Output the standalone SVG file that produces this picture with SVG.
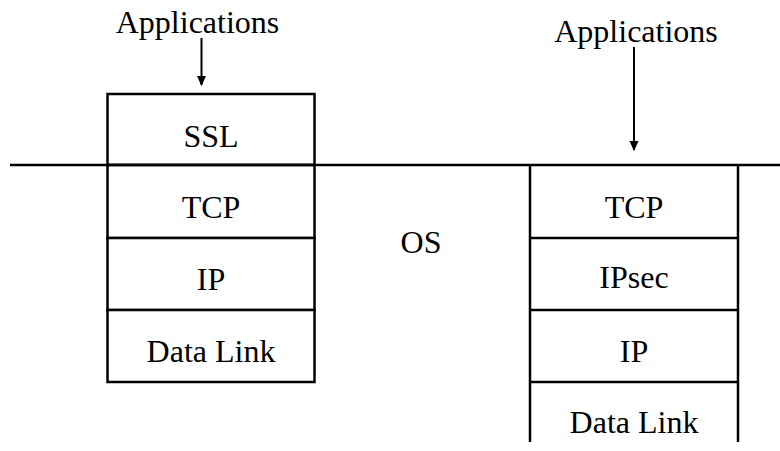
<svg xmlns="http://www.w3.org/2000/svg" width="780" height="451" viewBox="0 0 780 451">
<defs>
<style>
text{font-family:'Liberation Serif','Times New Roman',serif;font-size:32px;fill:#000;text-anchor:middle}
.b{fill:#fff;stroke:#000;stroke-width:2.5}
.l{stroke:#000;stroke-width:2.5;fill:none}
.a{stroke:#000;stroke-width:2;fill:none}
</style>
</defs>
<rect width="780" height="451" fill="#fff"/>
<g id="left-stack">
<g id="ssl"><rect class="b" x="107.5" y="94" width="207" height="71"/><text x="211" y="147">SSL</text></g>
<g id="tcp-l"><rect class="b" x="107.5" y="165" width="207" height="73"/><text x="211" y="218">TCP</text></g>
<g id="ip-l"><rect class="b" x="107.5" y="238" width="207" height="72"/><text x="211" y="290">IP</text></g>
<g id="dl-l"><rect class="b" x="107.5" y="310" width="207" height="72"/><text x="211" y="362">Data Link</text></g>
</g>
<g id="right-stack">
<g id="tcp-r"><line class="l" x1="530" y1="238" x2="738" y2="238"/><text x="634" y="218">TCP</text></g>
<g id="ipsec-r"><line class="l" x1="530" y1="310" x2="738" y2="310"/><text x="634" y="288">IPsec</text></g>
<g id="ip-r"><line class="l" x1="530" y1="382" x2="738" y2="382"/><text x="634" y="362">IP</text></g>
<g id="dl-r"><text x="634" y="433">Data Link</text></g>
<line class="l" x1="530" y1="165" x2="530" y2="442"/>
<line class="l" x1="738" y1="165" x2="738" y2="442"/>
</g>
<g id="os-line"><line class="l" x1="10" y1="165" x2="780" y2="165"/></g>
<g id="os"><text x="421" y="253">OS</text></g>
<g id="apps-l"><text x="197.5" y="33">Applications</text></g>
<g id="apps-r"><text x="636" y="42">Applications</text></g>
<g id="connectors">
<line class="a" x1="201.5" y1="38" x2="201.5" y2="85"/>
<path d="M197,76 L206,76 L201.5,86 Z" fill="#000"/>
<line class="a" x1="634" y1="47" x2="634" y2="150"/>
<path d="M629.5,141 L638.5,141 L634,151 Z" fill="#000"/>
</g>
</svg>
